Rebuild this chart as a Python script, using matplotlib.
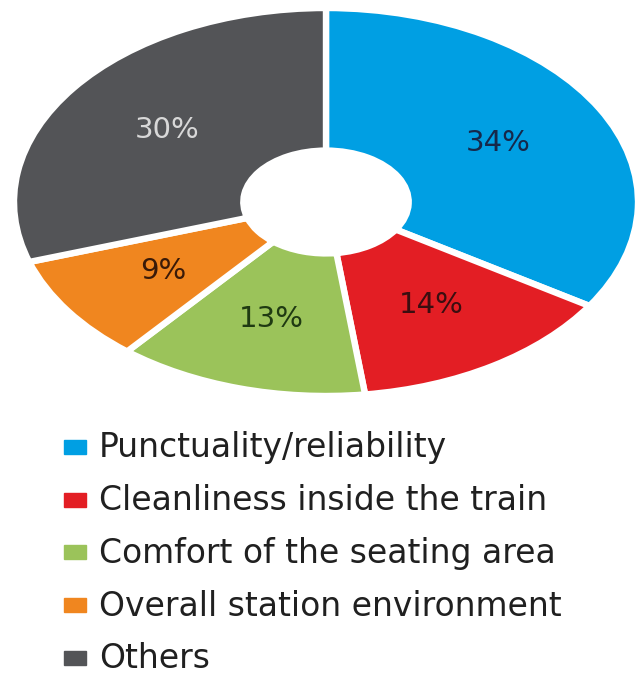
import matplotlib

matplotlib.use("Agg")
import matplotlib.pyplot as plt
import numpy as np
from matplotlib.patches import Rectangle

categories = [
    "Punctuality/reliability",
    "Cleanliness inside the train",
    "Comfort of the seating area",
    "Overall station environment",
    "Others",
]
shares = [34, 14, 13, 9, 30]
colors = ["#009FE3", "#E31E24", "#9BC35A", "#F0861F", "#535457"]
label_colors = ["#16284A", "#3A0E10", "#1F3A12", "#3A1A08", "#D8D8D8"]

W, H = 636, 675
fig = plt.figure(figsize=(W / 100, H / 100), dpi=100)

# donut sits in the upper part, stretched into an ellipse
ax = fig.add_axes([14 / W, 1 - 396 / H, 624 / W, 388 / H])
wedges, _ = ax.pie(
    shares, colors=colors, startangle=90, counterclock=False,
    radius=1.0, wedgeprops=dict(width=0.735, edgecolor="white", linewidth=4.6),
)
ax.set_aspect("auto")
ax.set_xlim(-1, 1)
ax.set_ylim(-1, 1)
ax.axis("off")

total = sum(shares)
start = 90.0
for val, col in zip(shares, label_colors):
    sweep = 360.0 * val / total
    mid = np.deg2rad(start - sweep / 2)
    start -= sweep
    r = 0.63
    ax.text(r * np.cos(mid), r * np.sin(mid), f"{val}%", ha="center",
            va="center", color=col, fontsize=21, family="DejaVu Sans")

# legend drawn as rows of swatch + text
row0, step = 447, 52.7
for i, (name, col) in enumerate(zip(categories, colors)):
    yc = row0 + i * step
    fig.patches.append(Rectangle((64 / W, 1 - (yc + 7) / H), 22 / W, 14 / H,
                                 transform=fig.transFigure, color=col))
    fig.text(99 / W, 1 - (yc + 1) / H, name, ha="left", va="center",
             fontsize=23.8, color="#202020", family="DejaVu Sans")

fig.savefig("out.png", dpi=100)
